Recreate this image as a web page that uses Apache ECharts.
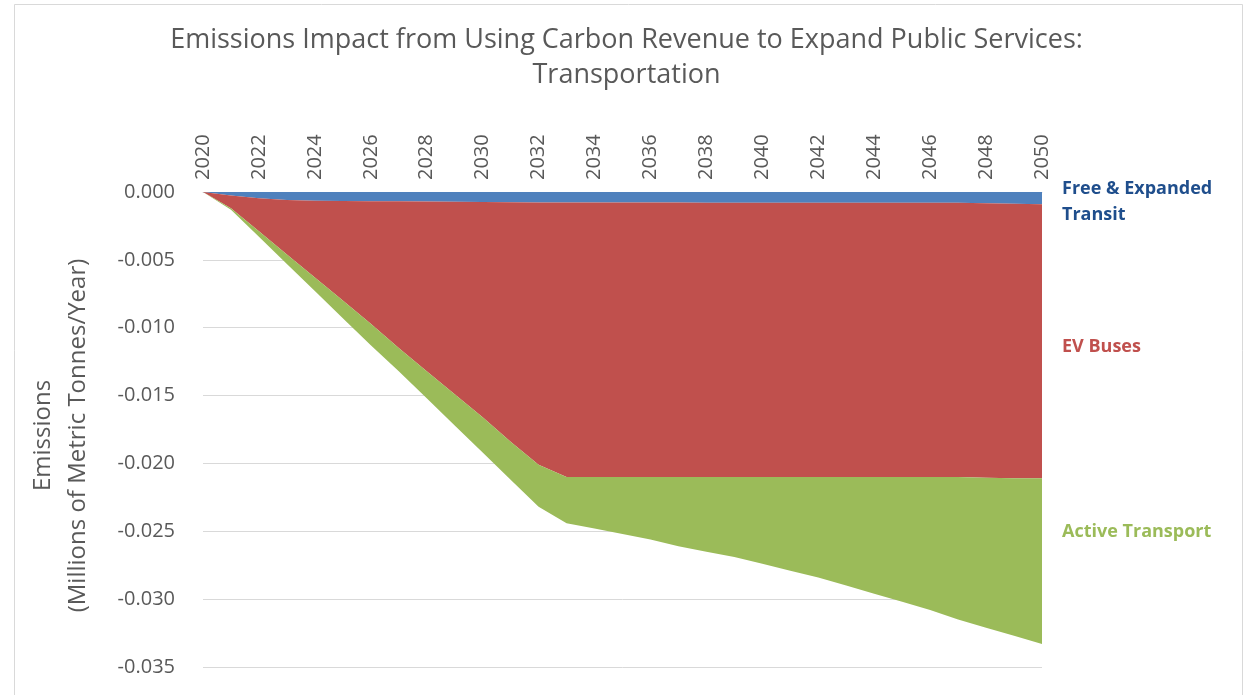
<!DOCTYPE html>
<html>
<head>
<meta charset="utf-8">
<script src="https://cdn.jsdelivr.net/npm/echarts@6/dist/echarts.min.js"></script>
<style>
html,body{margin:0;padding:0;background:#fff;}
#chart{width:1253px;height:695px;}
</style>
</head>
<body>
<div id="chart"></div>
<script>
const years = ['2020','2021','2022','2023','2024','2025','2026','2027','2028','2029','2030','2031','2032','2033','2034','2035','2036','2037','2038','2039','2040','2041','2042','2043','2044','2045','2046','2047','2048','2049','2050'];

const freeTransit = [0,-0.00026,-0.00046,-0.00059,-0.00064,-0.00066,-0.00068,-0.00069,-0.00070,-0.00071,-0.00073,-0.00075,-0.00077,-0.00078,-0.00078,-0.00078,-0.00078,-0.00078,-0.00079,-0.00079,-0.00079,-0.00079,-0.00079,-0.00080,-0.00080,-0.00080,-0.00080,-0.00080,-0.00082,-0.00086,-0.00090];

const evBuses = [0,-0.00094,-0.00244,-0.00401,-0.00566,-0.00734,-0.00902,-0.01081,-0.01250,-0.01419,-0.01587,-0.01765,-0.01933,-0.02022,-0.02022,-0.02022,-0.02022,-0.02022,-0.02021,-0.02021,-0.02021,-0.02021,-0.02021,-0.02020,-0.02020,-0.02020,-0.02020,-0.02020,-0.02023,-0.02024,-0.02020];

const activeTransport = [0,-0.0001,-0.0004,-0.0007,-0.0010,-0.0013,-0.0016,-0.0017,-0.0020,-0.0023,-0.0026,-0.0028,-0.0031,-0.0034,-0.0038,-0.0042,-0.0046,-0.0051,-0.0055,-0.0059,-0.0064,-0.0069,-0.0074,-0.0080,-0.0086,-0.0092,-0.0098,-0.0105,-0.01105,-0.0116,-0.0122];

const seriesNames = ['Free & Expanded Transit','EV Buses','Active Transport'];
const colors = ['#4F81BD','#C0504D','#9BBB59'];
const labelColors = ['#1F4E8C','#C0504D','#9BBB59'];

const chart = echarts.init(document.getElementById('chart'));
const font = '"Open Sans", "Noto Sans", sans-serif';

function mk(name, data, color){
  return {
    name: name, type: 'line', stack: 'total', data: data,
    symbol: 'none', showSymbol: false,
    lineStyle: {width: 0, color: color},
    itemStyle: {color: color},
    areaStyle: {color: color, opacity: 1},
    emphasis: {disabled: true}
  };
}

chart.setOption({
  animation: false,
  backgroundColor: '#fff',
  title: {
    text: 'Emissions Impact from Using Carbon Revenue to Expand Public Services:\nTransportation',
    left: 'center', top: 18,
    textStyle: {fontFamily: font, fontSize: 27, fontWeight: 'normal', color: '#595959', lineHeight: 35}
  },
  grid: {left: 203, right: 211, top: 192, bottom: 28, containLabel: false},
  xAxis: {
    type: 'category', position: 'top', boundaryGap: false, data: years,
    axisLine: {show: true, lineStyle: {color: '#d9d9d9', width: 1}},
    axisTick: {show: false},
    axisLabel: {interval: 1, rotate: 90, margin: 12, fontFamily: font, fontSize: 20, color: '#595959'},
    splitLine: {show: false}
  },
  yAxis: {
    type: 'value', min: -0.035, max: 0, interval: 0.005,
    name: 'Emissions\n(Millions of Metric Tonnes/Year)',
    nameLocation: 'middle', nameRotate: 90, nameGap: 107,
    nameTextStyle: {fontFamily: font, fontSize: 24, color: '#595959', lineHeight: 35, padding: [0, 12, 0, 0]},
    axisLine: {show: false}, axisTick: {show: false},
    axisLabel: {margin: 28, fontFamily: font, fontSize: 20, color: '#595959', formatter: v => v.toFixed(3)},
    splitLine: {lineStyle: {color: '#d9d9d9', width: 1}}
  },
  series: [
    mk(seriesNames[0], freeTransit, colors[0]),
    mk(seriesNames[1], evBuses, colors[1]),
    mk(seriesNames[2], activeTransport, colors[2])
  ],
  graphic: [
    {type: 'rect', shape: {x: 14.5, y: 4.5, width: 1228, height: 700}, style: {fill: 'none', stroke: '#d9d9d9', lineWidth: 1}, silent: true},
    {type: 'text', left: 1062, top: 176, style: {text: 'Free & Expanded\nTransit', fill: labelColors[0], font: 'bold 18px ' + font, lineHeight: 26}},
    {type: 'text', left: 1062, top: 338, style: {text: 'EV Buses', fill: labelColors[1], font: 'bold 18px ' + font}},
    {type: 'text', left: 1062, top: 523, style: {text: 'Active Transport', fill: labelColors[2], font: 'bold 18px ' + font}}
  ]
});
</script>
</body>
</html>
